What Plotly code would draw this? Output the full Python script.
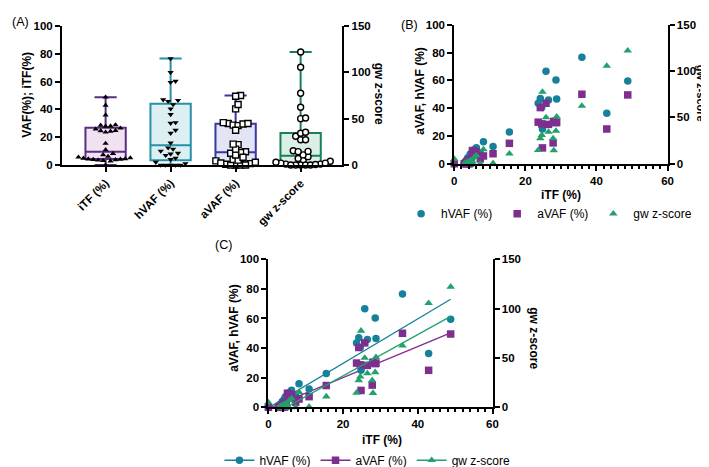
import numpy as np
import plotly.graph_objects as go

# ---------------- data (one entry per sample) ----------------
itf = [0, 2.8, 3.2, 3.5, 3.7, 3.9, 4.1, 4.3, 4.5, 4.8, 5.1, 5.6, 6.2, 7.3, 8.2,
       10.9, 15.5, 23.6, 24.2, 24.6, 24.8, 25.8, 26.5, 27.8, 28.0, 28.6, 28.8,
       35.9, 42.9, 48.8]
hvaf = [0, 0, 2, 0, 4, 0, 5, 1, 7, 0, 8.5, 10, 11.5, 8, 15.9,
        12.4, 22.9, 43.5, 47, 40.4, 25, 66.6, 45.8, 30.1, 30.5, 60.3, 46.5,
        76.6, 36.4, 59.5]
avaf = [0, 0, 0.5, 0, 1, 2, 0, 3, 1.5, 4, 9.5, 9, 8.5, 3.5, 5.6,
        7.2, 14.7, 29.9, 40.4, 28.7, 11.4, 43.5, 28.3, 15, 30.5, 29.5, 29.9,
        50, 25, 49.5]
gwz = [5, 0, 1, 0, 2, 0, 1, 3, 0, 4, 2, 7, 9, 0, 15.4,
       0.5, 10.9, 14.7, 27.3, 31, 77.5, 50, 34.3, 27.3, 14.4, 35.4, 50.8,
       62.4, 105.5, 122]

cat_labels = ["iTF (%)", "hVAF (%)", "aVAF (%)", "gw z-score"]
series_names = ["hVAF (%)", "aVAF (%)", "gw z-score"]

# ---------------- styling ----------------
W, H = 709, 467
FONT = "Liberation Sans, Arial, sans-serif"
TICKFONT = dict(family=FONT, size=11.5, color="black", weight="bold")
C_H, C_A, C_G = "#17809a", "#7d2e8e", "#23a06c"
box_line = ["#5b2c83", "#2590a8", "#3838a4", "#17805a"]
box_fill = ["#f1e2f2", "#dcf0f4", "#e3e4f5", "#dcefe4"]
pt_symbol = ["triangle-up", "triangle-down", "square", "circle"]
pt_fill = ["black", "black", "white", "white"]


def dom_x(a, b):
    return [a / W, b / W]


def dom_y(top, bottom):
    return [1 - bottom / H, 1 - top / H]

# panel geometry (pixels)
A_x = (51.7, 335.5); A_y = (12.3, 155.0)
B_x = (449.0, 665.0); B_y = (11.0, 153.7)
C_x = (260.7, 487.7); C_y = (251.7, 403.7)

A_range = [-0.67, 3.64]
cat_px_per_unit = (A_x[1] - A_x[0]) / (A_range[1] - A_range[0])


def swarm(vals, px_per_unit, d=5.0, step=2.6):
    vals = np.asarray(vals, float)
    order = np.argsort(vals, kind="stable")
    placed = []
    offs = np.zeros(len(vals))
    cands = [0.0]
    for j in range(1, 60):
        cands += [j * step, -j * step]
    for i in order:
        y = vals[i] * px_per_unit
        for c in cands:
            if all((c - p) ** 2 + (y - q) ** 2 >= d * d for p, q in placed):
                offs[i] = c
                placed.append((c, y))
                break
    return offs / cat_px_per_unit


fig = go.Figure()

# ---------------- panel A: box plots ----------------
groups = [itf, hvaf, avaf, gwz]
yscale_px = [(A_y[1] - A_y[0]) / 100] * 3 + [(A_y[1] - A_y[0]) / 150]
for k, vals in enumerate(groups):
    yax = "y" if k < 3 else "y6"
    q1, med, q3 = np.percentile(vals, [25, 50, 75], method="weibull")
    fig.add_trace(go.Box(
        x=[k], q1=[q1], median=[med], q3=[q3],
        lowerfence=[min(vals)], upperfence=[max(vals)],
        width=0.62, whiskerwidth=0.55, boxpoints=False,
        line=dict(color=box_line[k], width=2), fillcolor=box_fill[k],
        xaxis="x", yaxis=yax, showlegend=False, hoverinfo="skip"))
    offs = swarm(vals, yscale_px[k], d=5.0, step=2.5)
    fig.add_trace(go.Scatter(
        x=[k + o for o in offs], y=vals, mode="markers", cliponaxis=False,
        marker=dict(symbol=pt_symbol[k], size=5.5 if k < 2 else 6,
                    color=pt_fill[k], line=dict(color="black", width=1.4 if k >= 2 else 0)),
        xaxis="x", yaxis=yax, showlegend=False, hoverinfo="skip"))

# ---------------- panels B and C: scatter ----------------
ser_vals = [hvaf, avaf, gwz]
ser_col = [C_H, C_A, C_G]
ser_sym = ["circle", "square", "triangle-up"]
ser_size = [7.5, 7.5, 7.5]

# C regression lines (drawn first, under the markers)
xfit = np.array([min(itf), max(itf)])
for k, vals in enumerate(ser_vals):
    m, b = np.polyfit(itf, vals, 1)
    fig.add_trace(go.Scatter(
        x=xfit, y=m * xfit + b, mode="lines",
        line=dict(color=ser_col[k], width=1.3),
        xaxis="x3", yaxis="y3" if k < 2 else "y4", showlegend=False, hoverinfo="skip"))

for k, vals in enumerate(ser_vals):
    # B
    fig.add_trace(go.Scatter(
        x=itf, y=vals, mode="markers", cliponaxis=False, name=series_names[k],
        marker=dict(symbol=ser_sym[k], size=ser_size[k], color=ser_col[k]),
        xaxis="x2", yaxis="y2" if k < 2 else "y5", legend="legend2", showlegend=True))
    # C
    fig.add_trace(go.Scatter(
        x=itf, y=vals, mode="markers", cliponaxis=False, name=series_names[k],
        marker=dict(symbol=ser_sym[k], size=ser_size[k], color=ser_col[k]),
        xaxis="x3", yaxis="y3" if k < 2 else "y4", showlegend=False))
    # C legend entry (line + marker)
    fig.add_trace(go.Scatter(
        x=[None], y=[None], mode="lines+markers", name=series_names[k],
        line=dict(color=ser_col[k], width=1.3),
        marker=dict(symbol=ser_sym[k], size=ser_size[k], color=ser_col[k]),
        xaxis="x3", yaxis="y3", legend="legend3", showlegend=True))

axis_common = dict(showline=True, linecolor="black", linewidth=2, ticks="outside",
                   ticklen=5, tickwidth=2, tickcolor="black", showgrid=False,
                   zeroline=False, tickfont=TICKFONT)

minor_x = dict(dtick=2, ticks="outside", ticklen=3, tickwidth=1.5, tickcolor="black", showgrid=False)

fig.update_layout(
    width=W, height=H, margin=dict(l=0, r=0, t=0, b=0),
    paper_bgcolor="white", plot_bgcolor="rgba(0,0,0,0)",
    font=dict(family=FONT, color="black"),
    boxmode="overlay",
    xaxis=dict(domain=dom_x(*A_x), range=A_range, anchor="y",
               tickvals=[0, 1, 2, 3], ticktext=cat_labels, tickangle=-45, **axis_common),
    yaxis=dict(domain=dom_y(*A_y), range=[0, 100], dtick=20, anchor="x", **axis_common),
    yaxis6=dict(range=[0, 150], dtick=50, overlaying="y", side="right", anchor="x", **axis_common),
    xaxis2=dict(domain=dom_x(*B_x), range=[0, 60], dtick=20, anchor="y2", minor=minor_x, **axis_common),
    yaxis2=dict(domain=dom_y(*B_y), range=[0, 100], dtick=20, anchor="x2", **axis_common),
    yaxis5=dict(range=[0, 150], dtick=50, overlaying="y2", side="right", anchor="x2", **axis_common),
    xaxis3=dict(domain=dom_x(*C_x), range=[0, 60], dtick=20, anchor="y3", minor=minor_x, **axis_common),
    yaxis3=dict(domain=dom_y(*C_y), range=[0, 100], dtick=20, anchor="x3", **axis_common),
    yaxis4=dict(range=[0, 150], dtick=50, overlaying="y3", side="right", anchor="x3", **axis_common),
    legend2=dict(orientation="h", x=545 / W, xanchor="center", y=1 - 205 / H, yanchor="middle",
                 font=dict(family=FONT, size=12), bgcolor="rgba(0,0,0,0)", itemwidth=30),
    legend3=dict(orientation="h", x=361 / W, xanchor="center", y=1 - 458 / H, yanchor="middle",
                 font=dict(family=FONT, size=12), bgcolor="rgba(0,0,0,0)", itemwidth=30),
)


def ann(text, x, y, angle=0, size=12, bold=True):
    fig.add_annotation(text=text, x=x / W, y=1 - y / H, xref="paper", yref="paper",
                       showarrow=False, textangle=angle, xanchor="center", yanchor="middle",
                       font=dict(family=FONT, size=size, color="black",
                                 weight="bold" if bold else "normal"))

# panel labels
ann("(A)", 10, 8, bold=False, size=12.5)
ann("(B)", 404, 11, bold=False, size=12.5)
ann("(C)", 215, 237, bold=False, size=12.5)
# axis titles
ann("VAF(%); iTF(%)", 16, 83, angle=-90)
ann("gw z-score", 373, 82, angle=90)
ann("aVAF, hVAF (%)", 414, 79, angle=-90)
ann("gw z-score", 699, 81, angle=90, size=11)
ann("iTF (%)", 557, 186)
ann("aVAF, hVAF (%)", 226, 322, angle=-90)
ann("gw z-score", 529, 333, angle=90)
ann("iTF (%)", 376, 437)

fig.write_html("out.html")
